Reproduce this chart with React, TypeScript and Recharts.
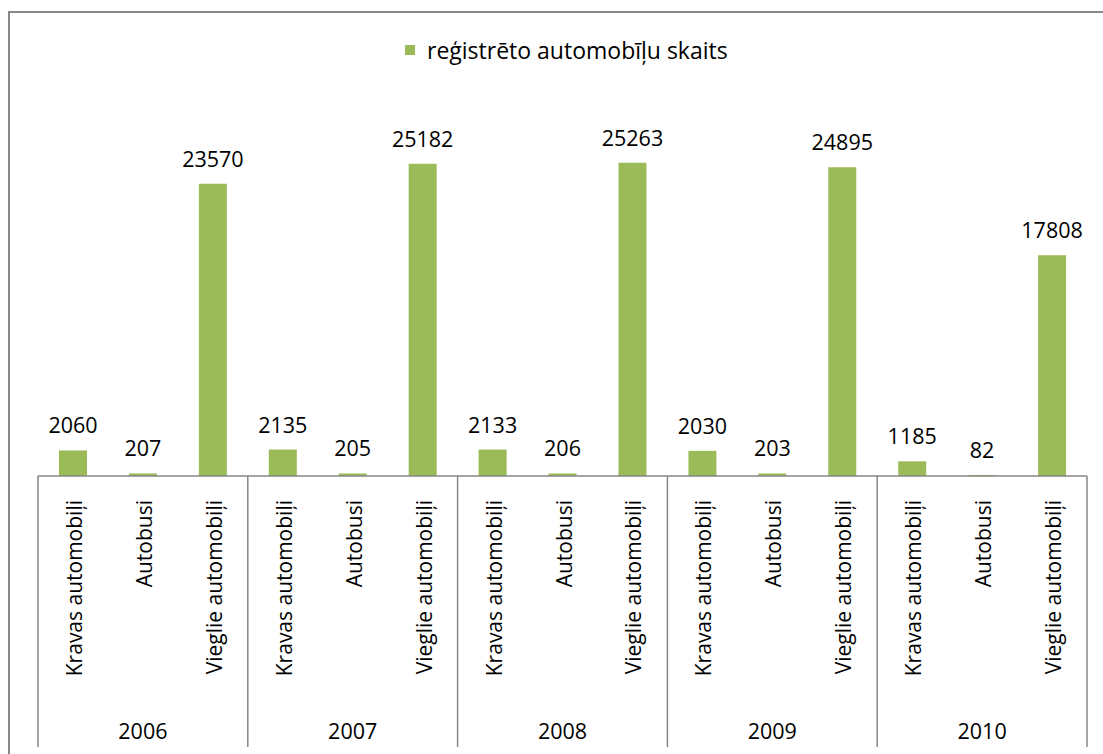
import { BarChart, Bar, XAxis, YAxis, LabelList } from "recharts";

const years = ["2006", "2007", "2008", "2009", "2010"];
const types = ["Kravas automobiļi", "Autobusi", "Vieglie automobiļi"];
const counts = [
  [2060, 207, 23570],
  [2135, 205, 25182],
  [2133, 206, 25263],
  [2030, 203, 24895],
  [1185, 82, 17808],
];
const seriesName = "reģistrēto automobīļu skaits";

const rows = years.flatMap((year, yi) =>
  types.map((type, ti) => ({ key: `${year}-${ti}`, year, type, value: counts[yi][ti] }))
);

const FONT = "'Open Sans', sans-serif";
const FS = 21.5;
const GREEN = "#9bbb59";
const GRID = "#868686";

function CategoryTick(props: any) {
  const { x, y, payload, index } = props;
  const half = payload?.offset || 35;
  const row = rows[index];
  const pos = index % 3;
  return (
    <g>
      {pos === 0 && <line x1={x - half} y1={y} x2={x - half} y2={y + 271} stroke={GRID} strokeWidth={1.5} />}
      {index === rows.length - 1 && (
        <line x1={x + half} y1={y} x2={x + half} y2={y + 271} stroke={GRID} strokeWidth={1.5} />
      )}
      <text
        transform={`translate(${x + 9},${y + 24}) rotate(-90)`}
        textAnchor="end"
        fontFamily={FONT}
        fontSize={21}
        fill="#000"
      >
        {row.type}
      </text>
      {pos === 1 && (
        <text x={x} y={y + 263} textAnchor="middle" fontFamily={FONT} fontSize={FS} fill="#000">
          {row.year}
        </text>
      )}
    </g>
  );
}

export default function App() {
  return (
    <div style={{ position: "absolute", left: 0, top: 0, width: 1103, height: 754, overflow: "hidden", background: "#fff" }}>
      <div
        style={{
          position: "absolute",
          left: 8,
          top: 11,
          width: 1200,
          height: 800,
          borderLeft: `2px solid ${GRID}`,
          borderTop: `2px solid ${GRID}`,
        }}
      />
      {/* legend */}
      <div
        style={{
          position: "absolute",
          left: 405,
          top: 34,
          display: "flex",
          alignItems: "center",
          fontFamily: FONT,
          fontSize: 23,
          color: "#000",
          whiteSpace: "nowrap",
        }}
      >
        <span style={{ width: 10, height: 10, background: GREEN, marginRight: 12, display: "inline-block" }} />
        <span>{seriesName}</span>
      </div>
      <div style={{ position: "absolute", left: 0, top: 0 }}>
        <BarChart
          width={1103}
          height={754}
          data={rows}
          margin={{ top: 104, right: 16, bottom: 248, left: 38 }}
          barSize={28}
        >
          <YAxis hide domain={[0, 30000]} />
          <XAxis
            dataKey="key"
            interval={0}
            height={30}
            tickLine={false}
            tickSize={0}
            tickMargin={0}
            axisLine={{ stroke: GRID, strokeWidth: 1.5 }}
            tick={<CategoryTick />}
          />
          <Bar dataKey="value" name={seriesName} fill={GREEN} isAnimationActive={false}>
            <LabelList dataKey="value" position="top" offset={17} fontFamily={FONT} fontSize={FS} fill="#000" />
          </Bar>
        </BarChart>
      </div>
    </div>
  );
}
